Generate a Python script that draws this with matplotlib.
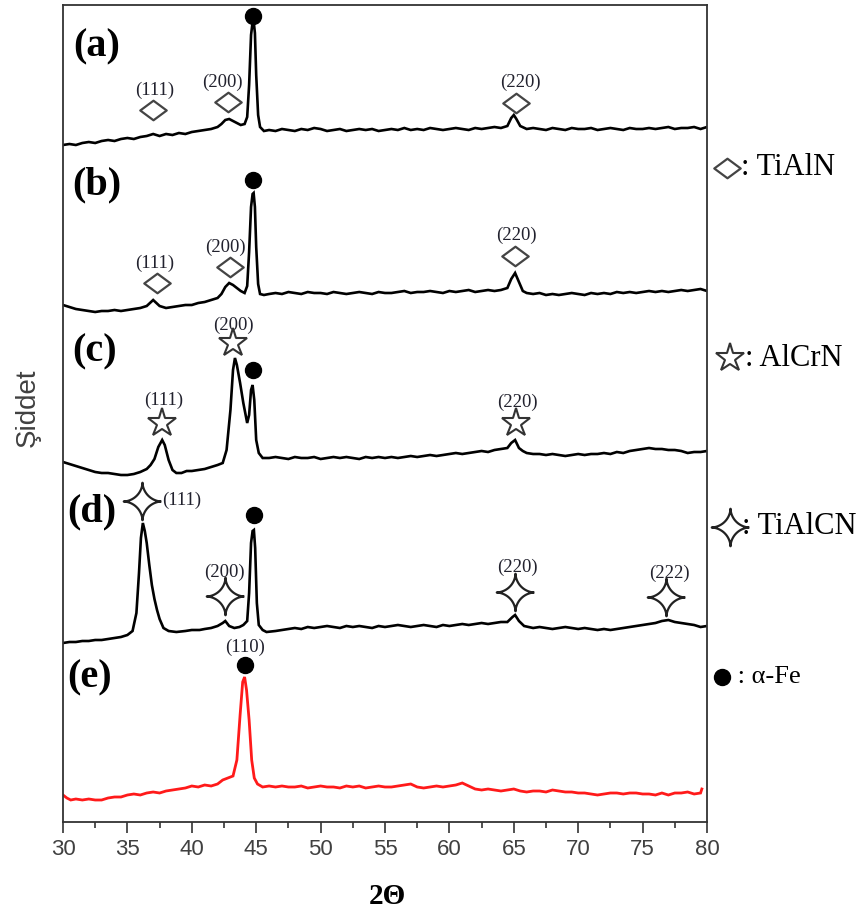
import numpy as np
import matplotlib
matplotlib.use('Agg')
import matplotlib.pyplot as plt
from matplotlib.path import Path
from matplotlib.ticker import MultipleLocator

# ---------------- data ----------------
# 2-theta grids
x_a = np.concatenate([np.arange(30, 42.01, 0.5),
                      [42.3, 42.6, 42.9, 43.2, 43.5, 43.8, 44.1, 44.3, 44.45, 44.6, 44.72, 44.8, 44.9, 45.0, 45.15, 45.3, 45.6],
                      np.arange(46, 64.51, 0.5), [64.8, 65.0, 65.2, 65.5], np.arange(66, 80.01, 0.5)])
I_a = [0, 1, 0, 2, 3, 2, 4, 5, 4, 6, 7, 6, 8, 9, 11, 9, 11, 10, 12, 11, 13, 14, 15, 16, 18,
       21, 25, 26, 24, 22, 20, 21, 28, 60, 110, 123, 124, 112, 70, 30, 18, 14,
       15, 14, 16, 15, 14, 16, 15, 17, 16, 14, 15, 16, 14, 15, 16, 15, 16, 14, 15, 16, 15, 17, 15, 16, 15, 17, 16, 15, 16, 17, 16, 15, 17, 16, 17, 18, 17, 19,
       27, 30, 26, 19,
       16, 17, 16, 15, 17, 16, 15, 17, 16, 16, 17, 15, 16, 17, 16, 15, 17, 16, 16, 17, 16, 17, 18, 16, 17, 17, 18, 16, 18]

x_b = np.concatenate([np.arange(30, 42.01, 0.5),
                      [42.3, 42.6, 42.9, 43.2, 43.5, 43.8, 44.1, 44.3, 44.45, 44.6, 44.72, 44.8, 44.9, 45.0, 45.15, 45.3, 45.6],
                      np.arange(46, 64.51, 0.5), [64.8, 65.1, 65.4, 65.7], np.arange(66, 80.01, 0.5)])
I_b = [7, 5, 3, 2, 1, 0, 1, 1, 2, 1, 2, 3, 4, 6, 12, 6, 4, 5, 6, 7, 7, 9, 10, 12, 14,
       18, 25, 29, 27, 24, 21, 19, 26, 60, 105, 118, 119, 105, 65, 28, 18, 17,
       18, 19, 18, 20, 19, 18, 20, 19, 19, 18, 20, 19, 18, 19, 20, 19, 18, 20, 19, 19, 20, 21, 19, 20, 20, 21, 20, 19, 21, 20, 21, 22, 20, 21, 22, 21, 22, 24,
       33, 39, 30, 21,
       19, 18, 19, 17, 18, 17, 18, 19, 18, 17, 19, 18, 19, 18, 20, 19, 20, 19, 20, 21, 20, 21, 20, 21, 22, 21, 22, 23, 21]

x_c = np.concatenate([np.arange(30, 36.51, 0.5),
                      [36.8, 37.1, 37.4, 37.7, 37.9, 38.2, 38.5, 38.8],
                      [39.2, 39.6, 40, 40.5, 41, 41.5, 42, 42.4],
                      [42.7, 43.0, 43.2, 43.35, 43.5, 43.75, 44.0, 44.3, 44.45, 44.6, 44.72, 44.85, 45.0, 45.2, 45.5],
                      np.arange(46, 64.51, 0.5), [64.8, 65.1, 65.4, 65.7], np.arange(66, 80.01, 0.5)])
I_c = [13, 11, 9, 7, 5, 3, 2, 2, 1, 0, 0, 1, 3, 6,
       10, 16, 28, 35, 30, 15, 5, 2,
       2, 4, 4, 5, 6, 8, 10, 12,
       25, 65, 105, 117, 110, 92, 72, 52, 60, 85, 90, 75, 35, 22, 17,
       17, 18, 17, 16, 18, 17, 17, 18, 16, 17, 18, 17, 18, 17, 16, 18, 17, 18, 17, 18, 17, 18, 19, 18, 19, 20, 19, 20, 21, 22, 21, 22, 23, 24, 23, 25, 26, 27,
       32, 35, 27, 24,
       22, 21, 21, 20, 21, 20, 19, 20, 21, 20, 21, 21, 22, 21, 23, 22, 24, 25, 26, 27, 26, 26, 25, 25, 24, 22, 23, 23, 24]

x_d = np.concatenate([np.arange(30, 35.01, 0.5),
                      [35.4, 35.7, 35.9, 36.05, 36.2, 36.35, 36.5, 36.7, 36.9, 37.1, 37.3, 37.5, 37.8, 38.2],
                      [38.8, 39.5, 40, 40.6, 41, 41.5, 42, 42.4, 42.6, 42.9, 43.3, 43.7, 44.0, 44.3],
                      [44.45, 44.6, 44.72, 44.82, 44.92, 45.05, 45.2, 45.5, 45.8],
                      np.arange(46.5, 64.51, 0.5), [64.9, 65.1, 65.4, 65.8], np.arange(66.5, 80.01, 0.5)])
I_d = [0, 1, 1, 2, 2, 3, 3, 4, 5, 6, 8,
       12, 30, 70, 105, 120, 112, 100, 78, 58, 44, 33, 24, 15, 12,
       11, 12, 13, 13, 14, 15, 17, 20, 22, 17, 15, 16, 18, 22,
       50, 100, 112, 113, 95, 40, 18, 13, 11,
       12, 13, 14, 15, 14, 16, 15, 16, 17, 16, 15, 17, 16, 17, 16, 15, 17, 16, 17, 18, 17, 16, 17, 18, 17, 16, 18, 17, 18, 19, 18, 19, 20, 19, 20, 21, 21,
       26, 28, 22, 17,
       15, 16, 15, 14, 15, 16, 15, 14, 15, 14, 13, 14, 13, 14, 15, 16, 17, 18, 19, 20, 22, 23, 21, 20, 19, 18, 16, 17]

x_e = np.concatenate([[30, 30.3, 30.6], np.arange(31, 42.01, 0.5),
                      [42.4, 42.8, 43.2, 43.5, 43.75, 43.95, 44.1, 44.25, 44.45, 44.65, 44.85, 45.1, 45.5],
                      np.arange(46, 79.51, 0.5), [79.6]])
I_e = [5, 2, 0,
       1, 0, 1, 0, 0, 2, 3, 3, 5, 6, 5, 7, 8, 7, 9, 10, 11, 12, 14, 13, 15, 14, 16,
       20, 22, 24, 40, 85, 118, 123, 110, 80, 40, 22, 16, 13,
       14, 13, 14, 13, 13, 14, 12, 13, 14, 13, 13, 12, 14, 13, 14, 12, 13, 14, 13, 13, 14, 15, 16, 13, 12, 13, 14, 13, 14, 15, 17, 14, 11, 10,
       11, 10, 9, 10, 11, 9, 8, 9, 9, 8, 10, 9, 8, 8, 7, 7, 6, 5, 6, 7, 7, 6, 7, 7, 6, 6, 5, 7, 5, 7, 7, 8, 6, 7,
       11]

offsets = [677, 510, 347, 179, 22]
panel_labels = ['(a)', '(b)', '(c)', '(d)', '(e)']

# peak annotations: (2theta, marker level, label x, label level, hkl)
tialn_a = [(37.0, 712, 37.15, 732, '(111)'), (42.8, 720, 42.4, 740, '(200)'), (65.2, 719, 65.5, 740, '(220)')]
tialn_b = [(37.3, 539, 37.15, 559, '(111)'), (43.0, 555, 42.6, 575, '(200)'), (65.1, 566, 65.2, 587, '(220)')]
alcrn_c = [(37.7, 399, 37.85, 422, '(111)'), (43.2, 479, 43.2, 497, '(200)'), (65.2, 399, 65.3, 420, '(220)')]
tialcn_d = [(36.15, 321, 39.2, 322, '(111)'), (42.6, 226, 42.5, 250, '(200)'),
            (65.1, 230, 65.3, 255, '(220)'), (76.8, 225, 77.1, 249, '(222)')]
fe_x = [44.75, 44.75, 44.75, 44.8, 44.1]
fe_y = [806, 642, 452, 307, 157]
fe_label = (44.1, 175, '(110)')

xticks = [30, 35, 40, 45, 50, 55, 60, 65, 70, 75, 80]

# ---------------- drawing ----------------
W, H = 862, 915
fig = plt.figure(figsize=(W / 100, H / 100), dpi=100)
L, R, T, B = 63, 707, 5, 822
ax = fig.add_axes([L / W, 1 - B / H, (R - L) / W, (B - T) / H])


def fp(x, y):
    return (x / W, 1 - y / H)


SERIF = ['Liberation Serif', 'DejaVu Serif']
SANS = ['Liberation Sans', 'DejaVu Sans']

traces = [(x_a, I_a), (x_b, I_b), (x_c, I_c), (x_d, I_d), (x_e, I_e)]
for i, ((xx, yy), off) in enumerate(zip(traces, offsets)):
    col = '#ff1a1a' if i == 4 else 'black'
    lw = 2.0 if i == 4 else 1.9
    ax.plot(xx, off + np.asarray(yy, float), color=col, lw=lw, solid_joinstyle='miter')

# marker shapes
diamond = Path([(-1.35, 0), (0, 1), (1.35, 0), (0, -1), (-1.35, 0)],
               [Path.MOVETO, Path.LINETO, Path.LINETO, Path.LINETO, Path.CLOSEPOLY])
t = np.linspace(0, 2 * np.pi, 161)
c, s = np.cos(t), np.sin(t)
p = 3.4
star4 = Path(np.column_stack([np.sign(c) * np.abs(c) ** p, np.sign(s) * np.abs(s) ** p]))

dkw = dict(marker=diamond, ms=19, mfc='white', mec='#444444', mew=1.6, ls='none')
skw = dict(marker='*', ms=21, mfc='white', mec='#333333', mew=1.5, ls='none')
s4kw = dict(marker=star4, ms=27, mfc='white', mec='#222222', mew=1.6, ls='none')
fekw = dict(marker='o', ms=11.5, mfc='black', mec='black', ls='none')
lab_kw = dict(fontsize=13.5, family=SERIF, color='#22222e', ha='center', va='center')

for lst, kw in [(tialn_a, dkw), (tialn_b, dkw), (alcrn_c, skw), (tialcn_d, s4kw)]:
    for (xm, ym, xl, yl, hkl) in lst:
        ax.plot([xm], [ym], clip_on=False, zorder=5, **kw)
        ax.text(xl, yl, hkl, **lab_kw)

ax.plot(fe_x, fe_y, clip_on=False, zorder=5, **fekw)
ax.text(fe_label[0], fe_label[1], fe_label[2], **lab_kw)

# panel labels
for lab, (px_, py_) in zip(panel_labels, [(97, 47), (97, 185), (95, 352), (92, 512), (90, 678)]):
    fig.text(*fp(px_, py_), lab, fontsize=29, fontweight='bold', family=SERIF, ha='center', va='center')

# right-side key
key = [(diamond, 727, 168, dkw, ': TiAlN', 741, 22),
       ('*', 730, 358, skw, ': AlCrN', 745, 22),
       (star4, 730, 527, s4kw, ': TiAlCN', 742, 22),
       ('o', 722, 677, fekw, ' : α-Fe', 731, 19)]
for mk, mx, my, kw, txt, tx, fs in key:
    ax.plot([fp(mx, my)[0]], [fp(mx, my)[1]], transform=fig.transFigure, clip_on=False, **kw)
    fig.text(*fp(tx, my), txt, fontsize=fs, family=SERIF, ha='left', va='center')

# axes styling
ax.set_xlim(30, 80)
ax.set_ylim(0, B - T)
ax.set_yticks([])
ax.set_xticks(xticks)
ax.xaxis.set_minor_locator(MultipleLocator(2.5))
ax.tick_params(axis='x', which='major', direction='out', length=8, width=1.2, color='#333333',
               labelsize=16, labelcolor='#404040', pad=4)
ax.tick_params(axis='x', which='minor', direction='out', length=4, width=1.2, color='#333333')
for lbl in ax.get_xticklabels():
    lbl.set_family(SANS)
for sp in ax.spines.values():
    sp.set_color('#333333')
    sp.set_linewidth(1.3)

fig.text(*fp(387, 896), '2Θ', fontsize=21, fontweight='bold', family=SERIF, ha='center', va='center')
fig.text(*fp(28, 408), 'Şiddet', fontsize=20, family=SANS, color='#404040', rotation=90,
         ha='center', va='center')

fig.savefig('out.png', dpi=100)
